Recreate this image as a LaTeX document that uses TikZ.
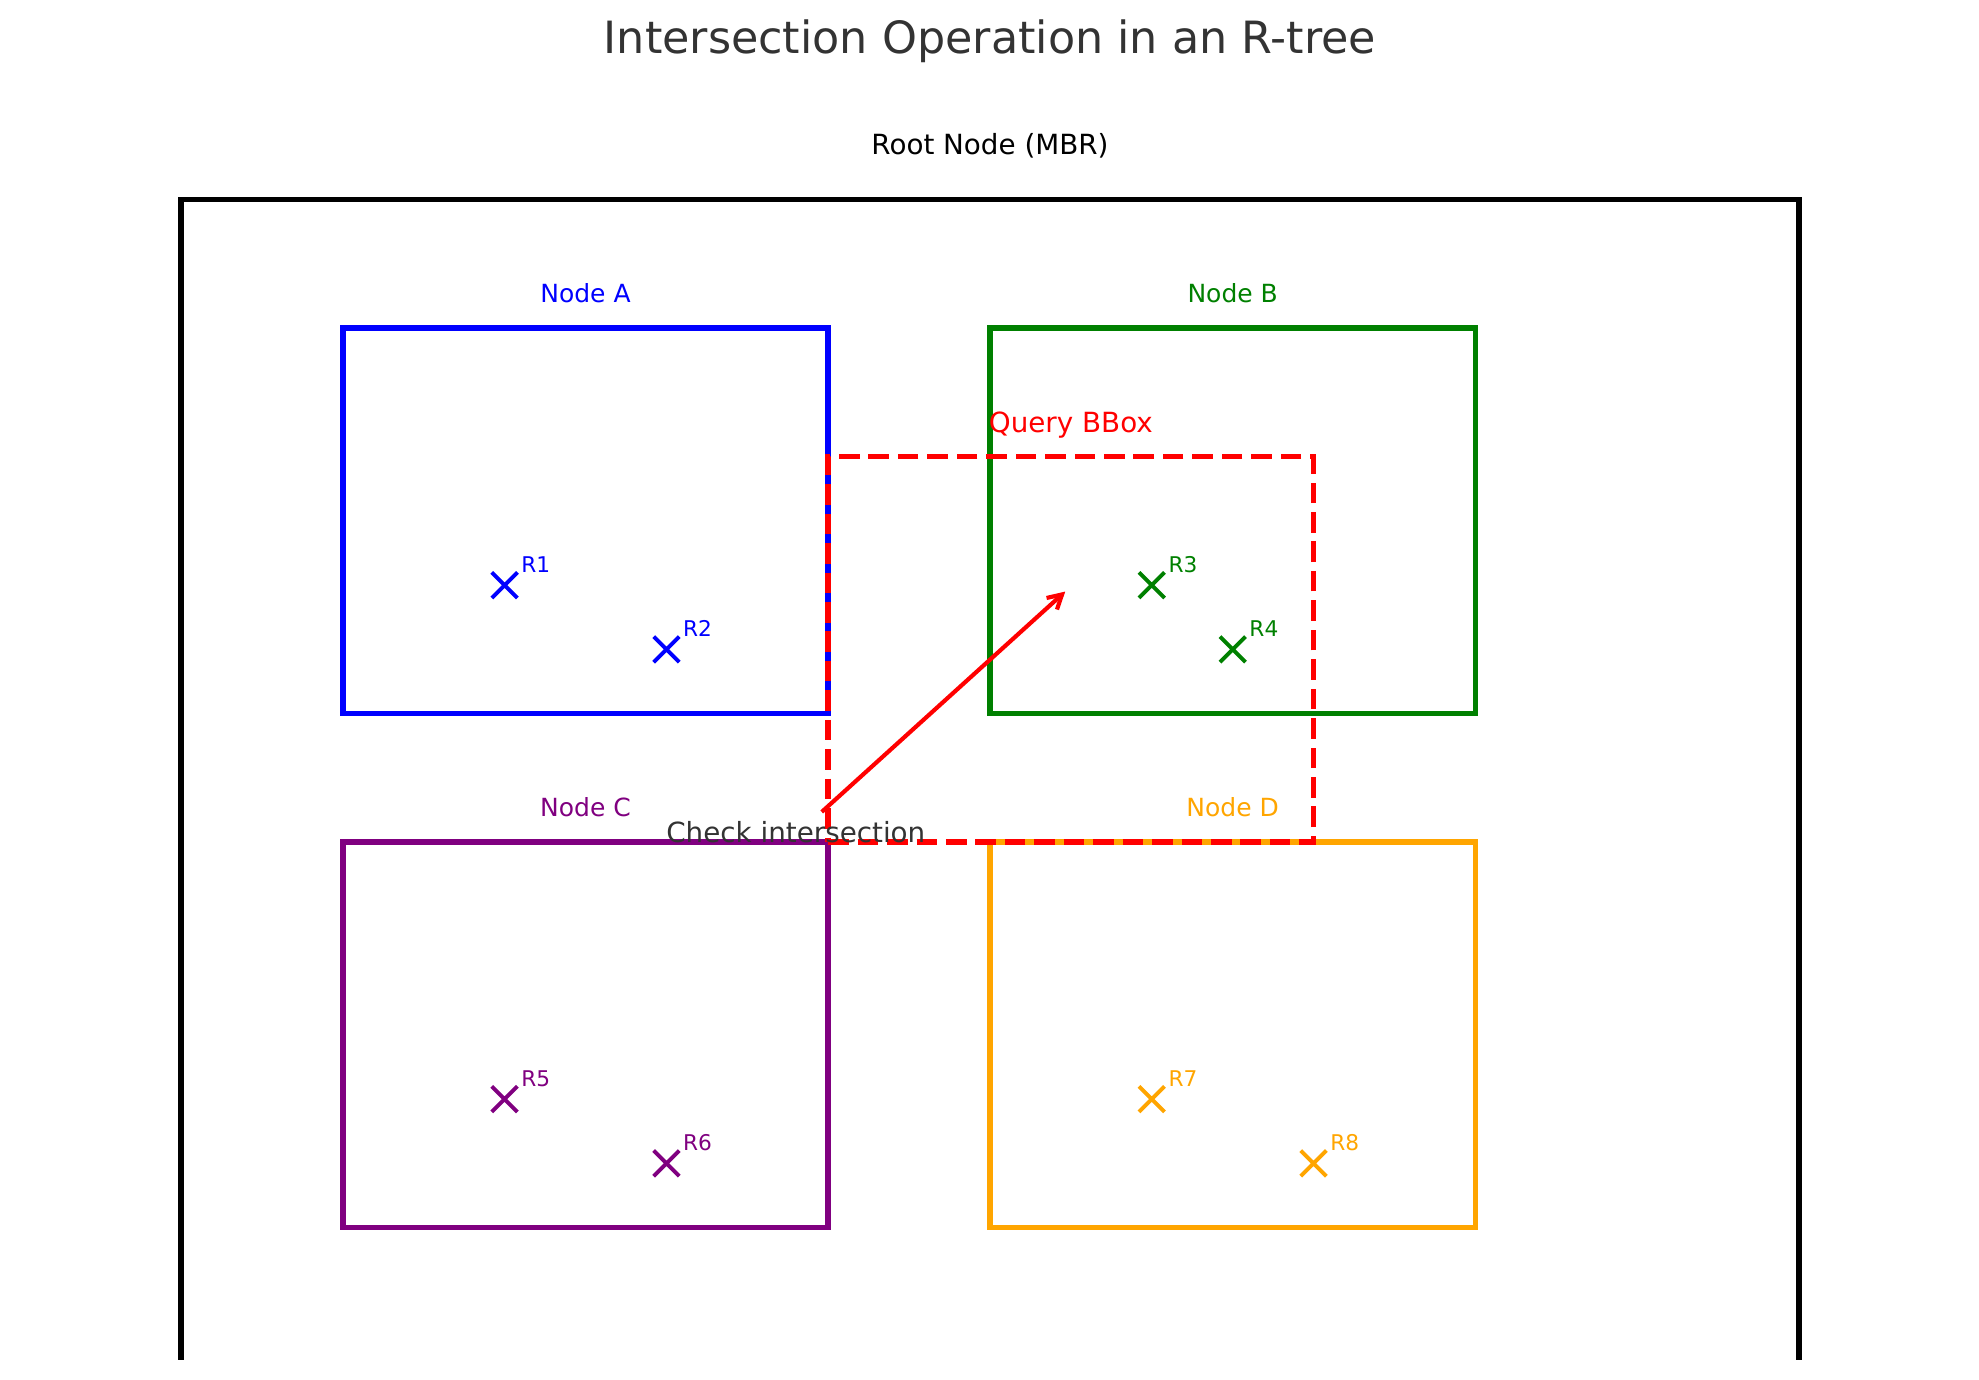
\documentclass[tikz,border=0pt]{standalone}
\usepackage{fontspec}
\setmainfont{DejaVu Sans}
\usetikzlibrary{arrows.meta}

\definecolor{mplgreen}{RGB}{0,128,0}
\definecolor{mplpurple}{RGB}{128,0,128}
\definecolor{mplorange}{RGB}{255,165,0}
\definecolor{textgray}{RGB}{51,51,51}

\newcommand{\rootLimBottom}{0.97}
\newcommand{\markArm}{4.6pt}

\tikzset{
  mbr/.style={line width=2pt},
  querybox/.style={red, line width=2pt, dash pattern=on 7.4pt off 3.2pt},
  entrymark/.style={line width=1.4pt},
  boxlabel/.style={inner sep=0, anchor=base, font=\fontsize{9}{11}\selectfont},
  entrylabel/.style={inner sep=0, anchor=base west, font=\fontsize{7.8}{9}\selectfont},
}

% one leaf entry: name, x, y, colour
\newcommand{\leafEntry}[4]{%
  \coordinate (#1_pt) at (#2,#3);
  \draw[entrymark,#4] (#1_pt) ++(-\markArm,-\markArm) -- ++(2*\markArm,2*\markArm)
                      (#1_pt) ++(-\markArm,\markArm) -- ++(2*\markArm,-2*\markArm);
  \node[entrylabel,text=#4] (#1_text) at (#2+0.1,#3+0.1) {#1};
}

\begin{document}
\begin{tikzpicture}[x=58.25pt,y=46.26pt]
    \useasboundingbox (-1.1187,0.8148) rectangle (11.1125,11.554);

    \node[inner sep=0, anchor=base, text=textgray, font=\fontsize{16}{19}\selectfont] (title_text) at (5,11.139) {Intersection Operation in an R-tree};

    % root MBR (cut off at the bottom)
    \draw[mbr] (0,\rootLimBottom) |- (10,10) -- (10,\rootLimBottom);
    \node[inner sep=0, anchor=base, font=\fontsize{10}{12}\selectfont] (root_text) at (5,10.35) {Root Node (MBR)};

    % child nodes
    \draw[mbr,blue] (1,6) rectangle (4,9);
    \node[boxlabel,text=blue] (node_a) at (2.5,9.2) {Node A};
    \leafEntry{R1}{2}{7}{blue}
    \leafEntry{R2}{3}{6.5}{blue}

    \draw[mbr,mplgreen] (5,6) rectangle (8,9);
    \node[boxlabel,text=mplgreen] (node_b) at (6.5,9.2) {Node B};
    \leafEntry{R3}{6}{7}{mplgreen}
    \leafEntry{R4}{6.5}{6.5}{mplgreen}

    \draw[mbr,mplpurple] (1,2) rectangle (4,5);
    \node[boxlabel,text=mplpurple] (node_c) at (2.5,5.2) {Node C};
    \leafEntry{R5}{2}{3}{mplpurple}
    \leafEntry{R6}{3}{2.5}{mplpurple}

    \draw[mbr,mplorange] (5,2) rectangle (8,5);
    \node[boxlabel,text=mplorange] (node_d) at (6.5,5.2) {Node D};
    \leafEntry{R7}{6}{3}{mplorange}
    \leafEntry{R8}{7}{2.5}{mplorange}

    % query box
    \draw[querybox] (4,5) -- (7,5) -- (7,8) -- (4,8) -- cycle;
    \node[inner sep=0, anchor=base, text=red, font=\fontsize{10}{12}\selectfont] (query_text) at (5.5,8.19) {Query BBox};

    \node[inner sep=0, anchor=base, text=textgray, font=\fontsize{10}{12}\selectfont] (check_text) at (3.8,5.0) {Check intersection};
    \coordinate (arrow_tail) at (3.96,5.235);
    \coordinate (arrow_tip) at (5.465,6.95);
    \draw[red, line width=1.5pt, -{Straight Barb[length=5pt,width=5.6pt]}] (arrow_tail) -- (arrow_tip);
\end{tikzpicture}
\end{document}
